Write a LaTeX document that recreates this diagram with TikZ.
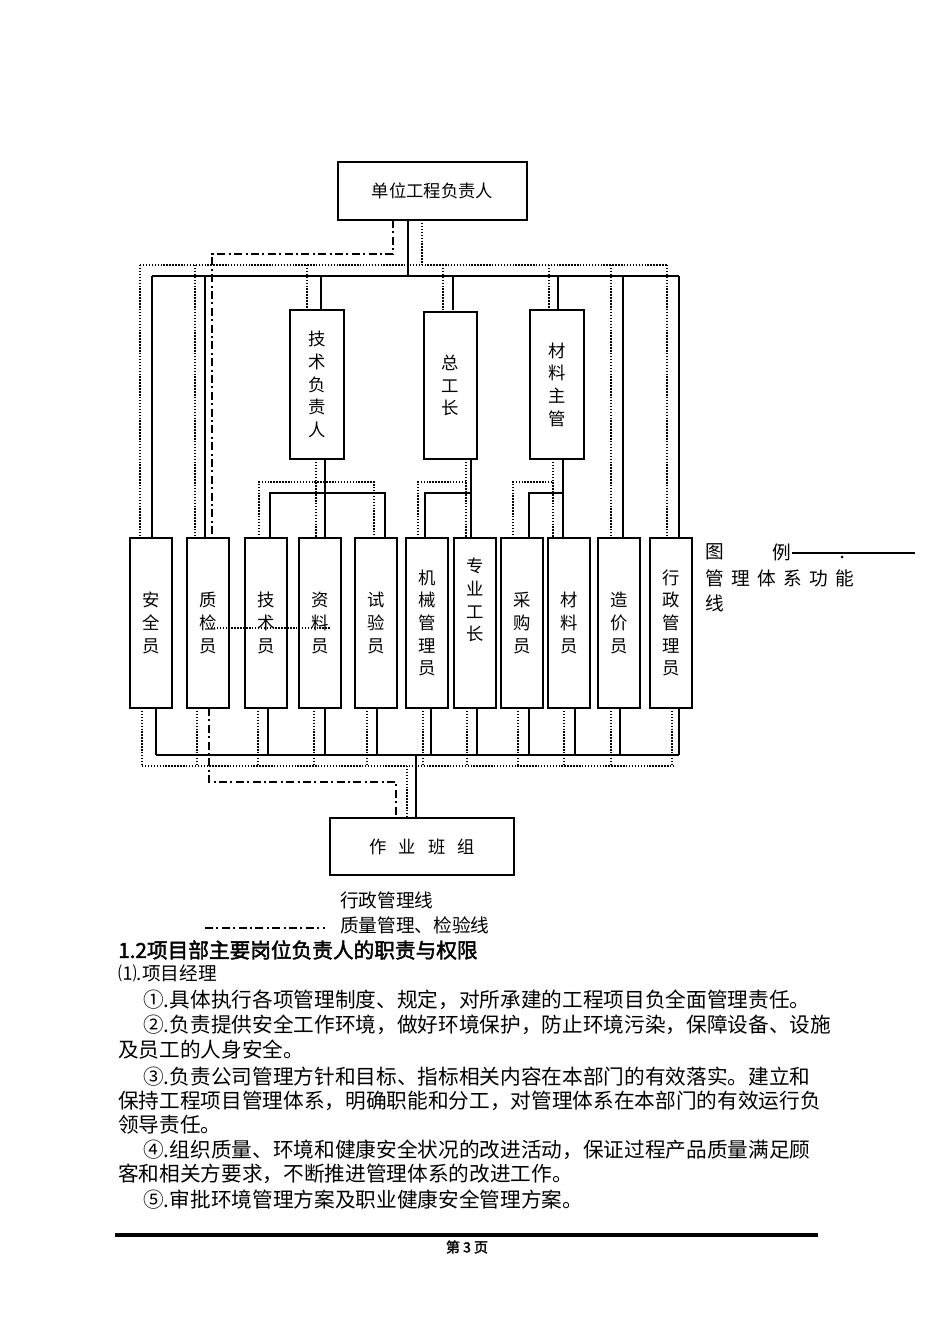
\documentclass[tikz,border=0pt]{standalone}
\usepackage{fontspec}
\setmainfont{Noto Sans CJK SC}[AutoFakeBold=2]
\begin{document}
\begin{tikzpicture}[x=0.75pt,y=-0.75pt,
  box/.style={draw,line width=1.1pt,inner sep=0pt,align=center,font=\fontsize{13}{17}\selectfont},
  sol/.style={line width=1.1pt},
  dot/.style={line width=1.4pt,dash pattern=on 1.1pt off 1.1pt},
  dd/.style={line width=1.6pt,dash pattern=on 6pt off 2.5pt on 1.6pt off 2.5pt},
  txt/.style={inner sep=0pt,anchor=west,font=\fontsize{15.5}{18}\selectfont}]
\useasboundingbox (0,0) rectangle (950,1344);
\newcommand{\bx}[6]{\node[box,minimum width={(#3-#2)*0.75pt},minimum height={(#5-#4)*0.75pt}] (#1) at ({(#2+#3)/2},{(#4+#5)/2}) {#6};}
% boxes
\bx{top}{338}{527}{162}{220}{单位工程负责人}
\bx{jsfzr}{290}{344}{310}{459}{\fontsize{13}{24}\selectfont 技\\术\\负\\责\\人}
\bx{zgz}{424}{477}{312}{459}{\fontsize{13}{24}\selectfont 总\\工\\长}
\bx{clzg}{530}{584}{310}{459}{\fontsize{13}{24}\selectfont 材\\料\\主\\管}
\bx{aqy}{130}{172}{538}{708}{\fontsize{13}{34}\selectfont 安\\全\\员}
\bx{zjy}{187}{229}{538}{708}{\fontsize{13}{34}\selectfont 质\\检\\员}
\bx{jsy}{245}{287}{538}{708}{\fontsize{13}{34}\selectfont 技\\术\\员}
\bx{zly}{299}{341}{538}{708}{\fontsize{13}{34}\selectfont 资\\料\\员}
\bx{syy}{355}{397}{538}{708}{\fontsize{13}{34}\selectfont 试\\验\\员}
\bx{jxgl}{406}{448}{538}{708}{\fontsize{13}{17}\selectfont 机\\械\\管\\理\\员}
\bx{zygz}{454}{496}{538}{708}{\fontsize{13}{17}\selectfont 专\\业\\工\\长\\[18pt]}
\bx{cgy}{501}{543}{538}{708}{\fontsize{13}{34}\selectfont 采\\购\\员}
\bx{cly}{548}{590}{538}{708}{\fontsize{13}{34}\selectfont 材\\料\\员}
\bx{zjiay}{598}{640}{538}{708}{\fontsize{13}{34}\selectfont 造\\价\\员}
\bx{xzgl}{650}{692}{538}{708}{\fontsize{13}{17}\selectfont 行\\政\\管\\理\\员}
\bx{bz}{330}{514}{818}{875}{作\hspace{0.7em}业\hspace{0.7em}班\hspace{0.7em}组}
% top connections
\draw[dd] (393,220)--(393,254)--(212,254)--(212,538);
\draw[sol] (408,220)--(408,276) (152,276)--(679,276);
\draw[dot] (422,220)--(422,265) (140,265)--(667,265);
\foreach \x in {152,205,623,679} \draw[sol] (\x,276)--(\x,538);
\foreach \x in {321,453,558} \draw[sol] (\x,276)--(\x,310);
\foreach \x in {140,195,611,667} \draw[dot] (\x,265)--(\x,538);
\foreach \x in {307,443,549} \draw[dot] (\x,265)--(\x,310);
% middle
\draw[dot] (316,459)--(316,538) (259,538)--(259,482)--(374,482)--(374,538);
\draw[sol] (325,459)--(325,538) (270,538)--(270,493)--(385,493)--(385,538);
\draw[dot] (466,459)--(466,538) (418,538)--(418,482)--(466,482);
\draw[sol] (471,459)--(471,538) (425,538)--(425,493)--(471,493);
\draw[dot] (553,459)--(553,538) (513,538)--(513,482)--(553,482);
\draw[sol] (563,459)--(563,538) (529,538)--(529,493)--(563,493);
\draw[dot] (208,628)--(330,628);
% bottom
\foreach \x in {156,268,325,377,431,477,529,575,620,679} \draw[sol] (\x,708)--(\x,755);
\draw[sol] (156,755)--(679,755) (416,755)--(416,818);
\foreach \x in {142,197,258,314,367,423,467,518,564,611,672} \draw[dot] (\x,708)--(\x,766);
\draw[dot] (142,766)--(675,766) (407,766)--(407,818);
\draw[dd] (209,708)--(209,782)--(396,782)--(396,818);
% legend
\node[txt,font=\fontsize{14}{16}\selectfont] (l1) at (705,552) {图};
\node[txt,font=\fontsize{14}{16}\selectfont] (l2) at (772,552) {例};
\coordinate (la) at (792,553); \coordinate (lb) at (915,553);
\draw[sol] (la)--(lb);
\fill (842,557) circle (1.5);
\node[txt,font=\fontsize{14}{16}\selectfont] (l3) at (705,578) {管\hspace{0.4em}理\hspace{0.4em}体\hspace{0.4em}系\hspace{0.4em}功\hspace{0.4em}能};
\node[txt,font=\fontsize{14}{16}\selectfont] (l4) at (705,603) {线};
\node[txt,font=\fontsize{14}{16}\selectfont] (l5) at (340,900) {行政管理线};
\node[txt,font=\fontsize{14}{16}\selectfont] (l6) at (340,925) {质量管理、检验线};
\coordinate (da) at (205,928); \coordinate (db) at (325,928);
\draw[dd] (da)--(db);
% body text
\node[txt,font=\fontsize{15.5}{18}\bfseries] (h) at (118,950) {1.2项目部主要岗位负责人的职责与权限};
\node[txt,font=\fontsize{14}{18}\selectfont] (p0) at (118,973) {⑴.项目经理};
\node[txt] (p1) at (143,1000) {①.具体执行各项管理制度、规定，对所承建的工程项目负全面管理责任。};
\node[txt] (p2) at (143,1025) {②.负责提供安全工作环境，做好环境保护，防止环境污染，保障设备、设施};
\node[txt] (p3) at (118,1050) {及员工的人身安全。};
\node[txt] (p4) at (143,1077) {③.负责公司管理方针和目标、指标相关内容在本部门的有效落实。建立和};
\node[txt] (p5) at (118,1101) {保持工程项目管理体系，明确职能和分工，对管理体系在本部门的有效运行负};
\node[txt] (p6) at (118,1125) {领导责任。};
\node[txt] (p7) at (143,1150) {④.组织质量、环境和健康安全状况的改进活动，保证过程产品质量满足顾};
\node[txt] (p8) at (118,1174) {客和相关方要求，不断推进管理体系的改进工作。};
\node[txt] (p9) at (143,1200) {⑤.审批环境管理方案及职业健康安全管理方案。};
\coordinate (fa) at (115,1235); \coordinate (fb) at (818,1235);
\draw[line width=2.4pt] (fa)--(fb);
\node[inner sep=0pt,font=\fontsize{10.5}{12}\bfseries] (pg) at (467,1247) {第 3 页};
\end{tikzpicture}
\end{document}
